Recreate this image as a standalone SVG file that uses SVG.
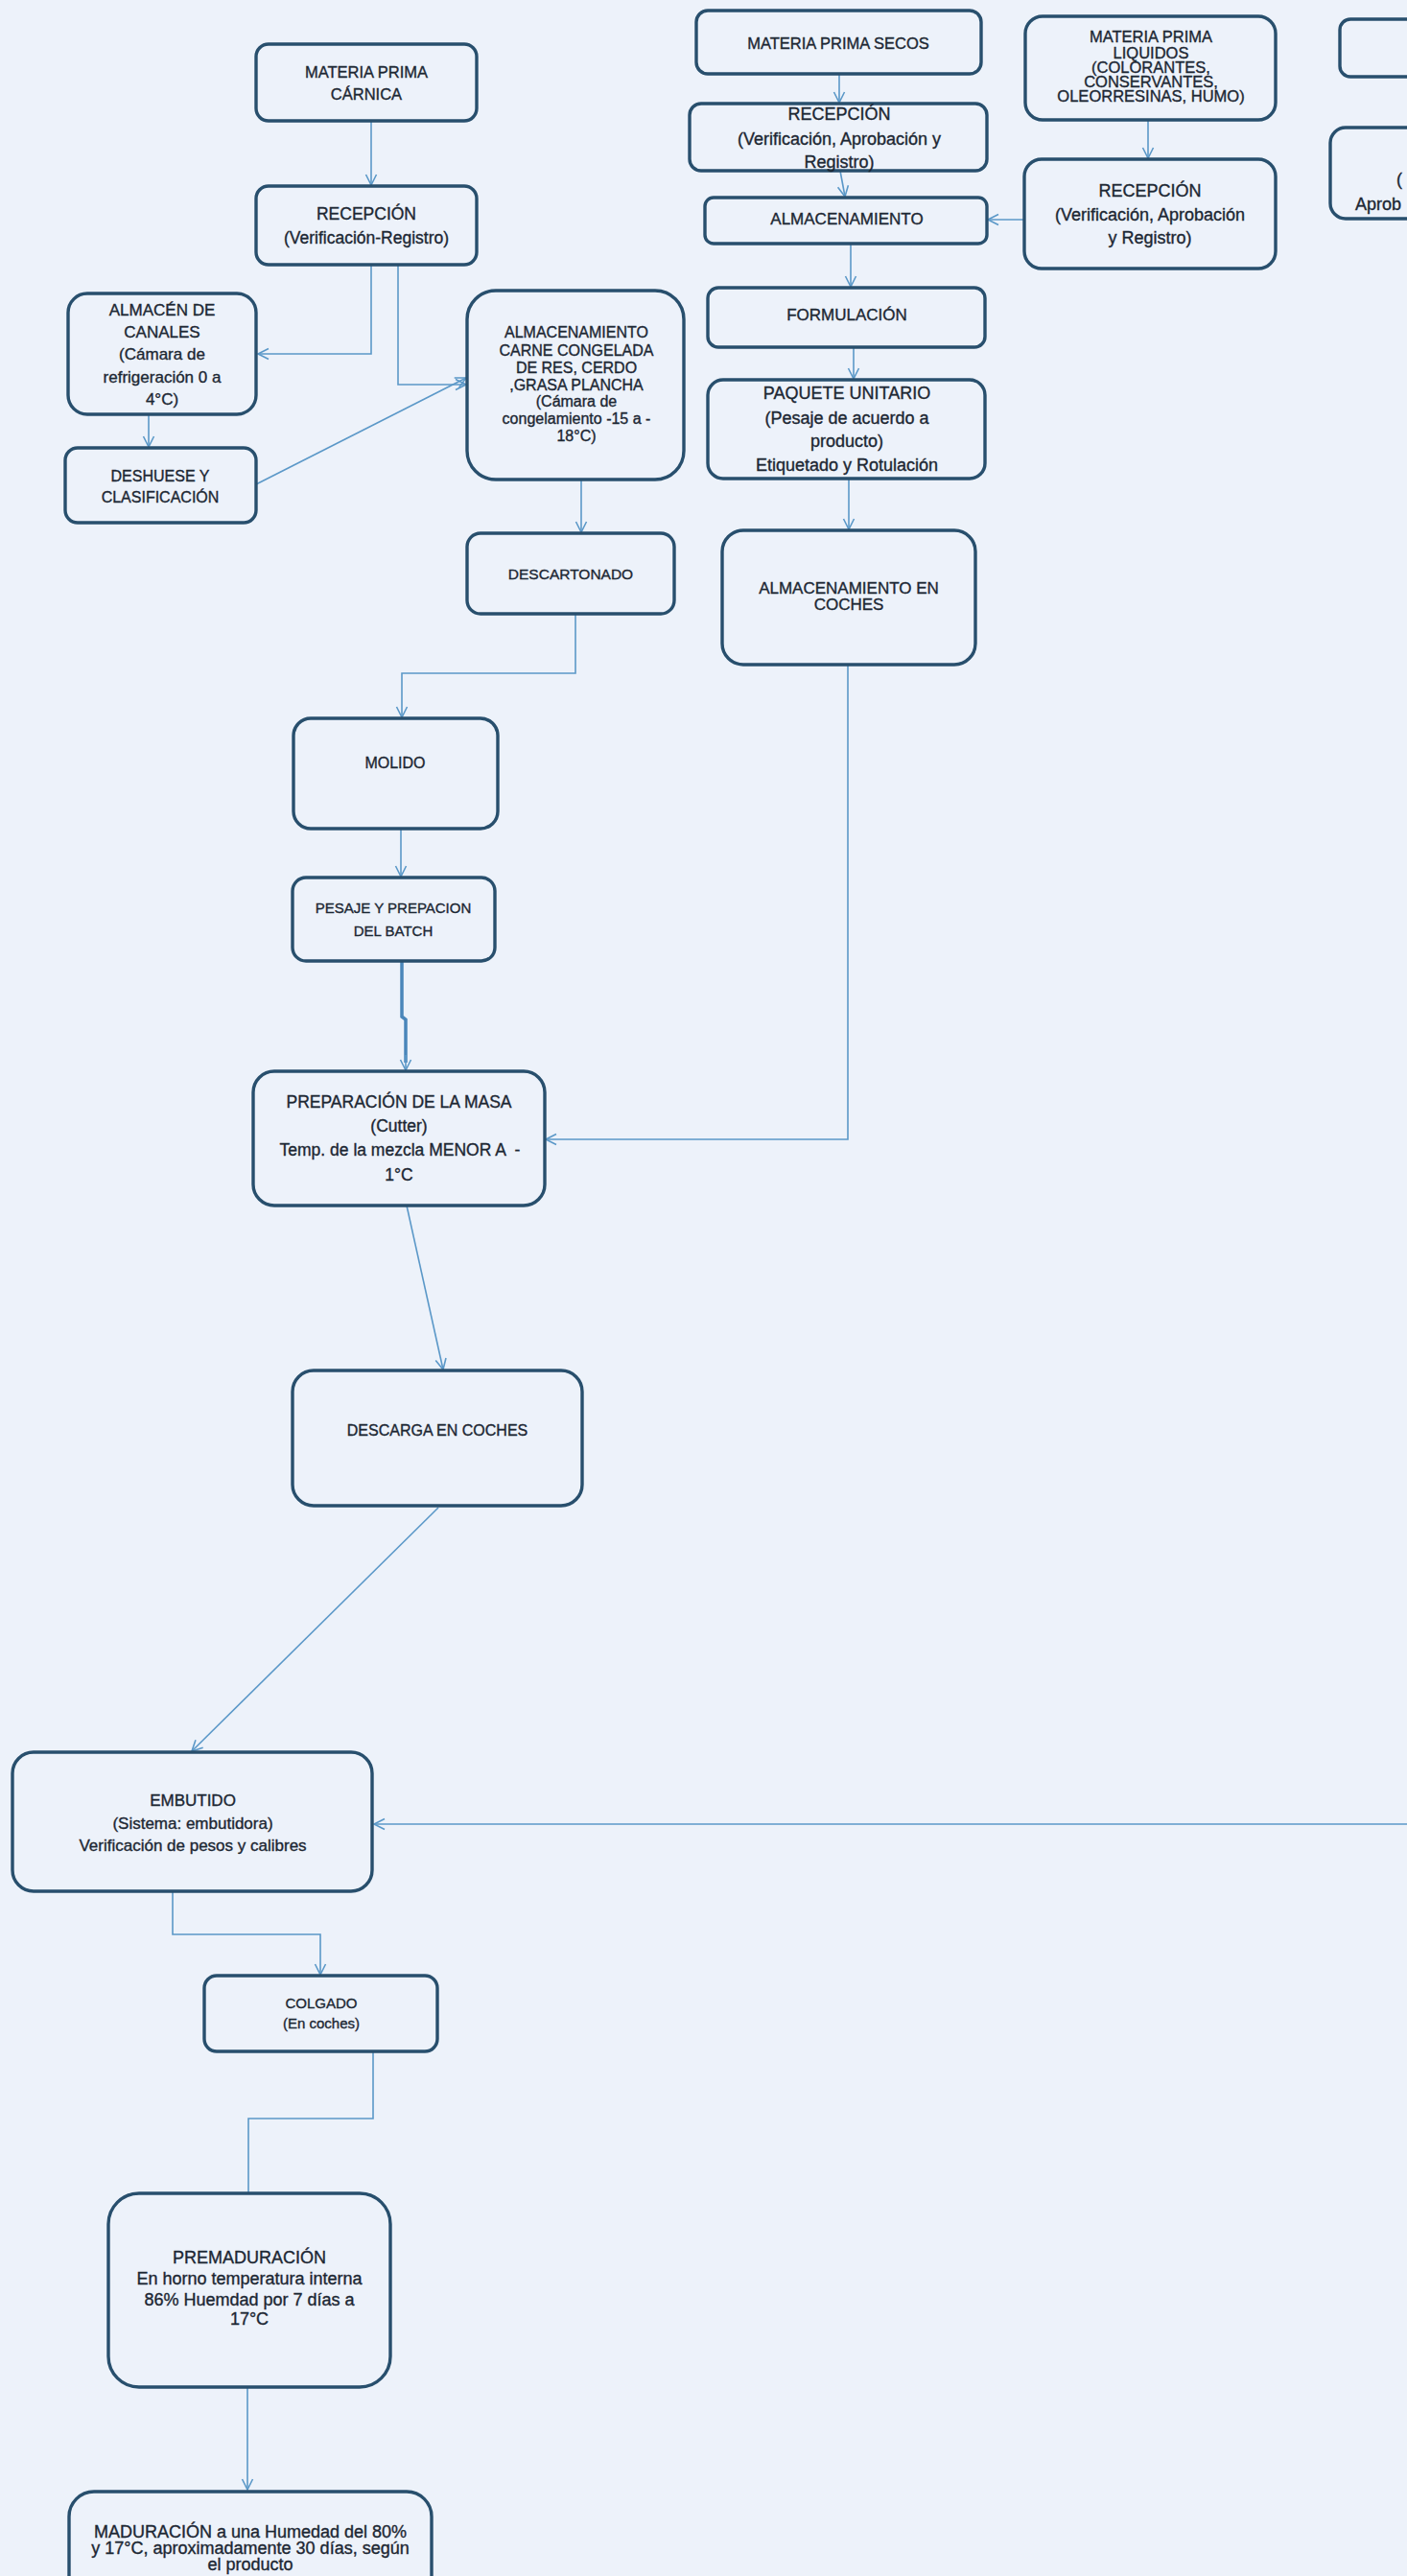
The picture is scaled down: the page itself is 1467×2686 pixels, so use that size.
<svg xmlns="http://www.w3.org/2000/svg" width="1467" height="2686" viewBox="0 0 1467 2686">
<defs>
<style>
.bx{fill:none;stroke:#284f6d;stroke-width:3.4}
.t{font-family:"Liberation Sans",Arial,sans-serif;fill:#1c2733;stroke:#1c2733;stroke-width:0.35;text-anchor:middle}
.c{fill:none;stroke:#5b98c8;stroke-width:1.6}
.ck{fill:none;stroke:#4a86ba;stroke-width:3.5}
</style>
<marker id="ah" markerWidth="14" markerHeight="14" refX="12" refY="7" orient="auto" markerUnits="userSpaceOnUse">
<polyline points="1,1.5 12,7 1,12.5" fill="none" stroke="#5b98c8" stroke-width="1.6"/>
</marker>
</defs>
<rect x="0" y="0" width="1467" height="2686" fill="#edf2fa"/>

<g id="connectors">
<path class="c" d="M387,126 V193" marker-end="url(#ah)"/>
<path class="c" d="M387,276 V369 H269" marker-end="url(#ah)"/>
<path class="c" d="M415,276 V401 H486" marker-end="url(#ah)"/>
<path class="c" d="M155,432 V466" marker-end="url(#ah)"/>
<path class="c" d="M267,505 L486,394" marker-end="url(#ah)"/>
<path class="c" d="M606,500 V555" marker-end="url(#ah)"/>
<path class="c" d="M600,640 V702 H419 V748" marker-end="url(#ah)"/>
<path class="c" d="M418,864 V914" marker-end="url(#ah)"/>
<path class="ck" d="M419,1002 V1060 L423,1063 V1108"/>
<path class="c" d="M423,1100 V1116" marker-end="url(#ah)"/>
<path class="c" d="M884,693 V1188 H569" marker-end="url(#ah)"/>
<path class="c" d="M424,1257 L462,1428" marker-end="url(#ah)"/>
<path class="c" d="M457,1572 L200,1826" marker-end="url(#ah)"/>
<path class="c" d="M1467,1902 H390" marker-end="url(#ah)"/>
<path class="c" d="M180,1972 V2017 H334 V2059" marker-end="url(#ah)"/>
<path class="c" d="M389,2139 V2209 H259 V2287"/>
<path class="c" d="M258,2489 V2596" marker-end="url(#ah)"/>
<path class="c" d="M875,77 V107" marker-end="url(#ah)"/>
<path class="c" d="M876,178 L881,205" marker-end="url(#ah)"/>
<path class="c" d="M887,254 V299" marker-end="url(#ah)"/>
<path class="c" d="M890,362 V395" marker-end="url(#ah)"/>
<path class="c" d="M885,499 V552" marker-end="url(#ah)"/>
<path class="c" d="M1197,125 V165" marker-end="url(#ah)"/>
<path class="c" d="M1068,229 H1030" marker-end="url(#ah)"/>
</g>

<g id="n1"><rect class="bx" x="267" y="46" width="230" height="80" rx="13"/>
<text class="t" font-size="16.5"><tspan x="382" y="81">MATERIA PRIMA</tspan><tspan x="382" y="104">CÁRNICA</tspan></text></g>

<g id="n2"><rect class="bx" x="267" y="194" width="230" height="82" rx="13"/>
<text class="t" font-size="17.5"><tspan x="382" y="229">RECEPCIÓN</tspan><tspan x="382" y="254">(Verificación-Registro)</tspan></text></g>

<g id="n3"><rect class="bx" x="71" y="306" width="196" height="126" rx="20"/>
<text class="t" font-size="17"><tspan x="169" y="329">ALMACÉN DE</tspan><tspan x="169" y="352">CANALES</tspan><tspan x="169" y="375">(Cámara de</tspan><tspan x="169" y="399">refrigeración 0 a</tspan><tspan x="169" y="422">4°C)</tspan></text></g>

<g id="n4"><rect class="bx" x="68" y="467" width="199" height="78" rx="13"/>
<text class="t" font-size="16"><tspan x="167" y="502">DESHUESE Y</tspan><tspan x="167" y="524">CLASIFICACIÓN</tspan></text></g>

<g id="n5"><rect class="bx" x="487" y="303" width="226" height="197" rx="30"/>
<text class="t" font-size="16"><tspan x="601" y="352">ALMACENAMIENTO</tspan><tspan x="601" y="371">CARNE CONGELADA</tspan><tspan x="601" y="389">DE RES, CERDO</tspan><tspan x="601" y="407">,GRASA PLANCHA</tspan><tspan x="601" y="424">(Cámara de</tspan><tspan x="601" y="442">congelamiento -15 a -</tspan><tspan x="601" y="460">18°C)</tspan></text></g>

<g id="n6"><rect class="bx" x="487" y="556" width="216" height="84" rx="14"/>
<text class="t" font-size="15.5"><tspan x="595" y="604">DESCARTONADO</tspan></text></g>

<g id="n7"><rect class="bx" x="306" y="749" width="213" height="115" rx="18"/>
<text class="t" font-size="16"><tspan x="412" y="801">MOLIDO</tspan></text></g>

<g id="n8"><rect class="bx" x="305" y="915" width="211" height="87" rx="14"/>
<text class="t" font-size="15"><tspan x="410" y="952">PESAJE Y PREPACION</tspan><tspan x="410" y="976">DEL BATCH</tspan></text></g>

<g id="n9"><rect class="bx" x="264" y="1117" width="304" height="140" rx="22"/>
<text class="t" font-size="17.5"><tspan x="416" y="1155">PREPARACIÓN DE LA MASA</tspan><tspan x="416" y="1180">(Cutter)</tspan><tspan x="417" y="1205">Temp. de la mezcla MENOR A &#160;-</tspan><tspan x="416" y="1231">1°C</tspan></text></g>

<g id="n10"><rect class="bx" x="305" y="1429" width="302" height="141" rx="22"/>
<text class="t" font-size="16"><tspan x="456" y="1497">DESCARGA EN COCHES</tspan></text></g>

<g id="n11"><rect class="bx" x="13" y="1827" width="375" height="145" rx="22"/>
<text class="t" font-size="17"><tspan x="201" y="1883">EMBUTIDO</tspan><tspan x="201" y="1907">(Sistema: embutidora)</tspan><tspan x="201" y="1930">Verificación de pesos y calibres</tspan></text></g>

<g id="n12"><rect class="bx" x="213" y="2060" width="243" height="79" rx="13"/>
<text class="t" font-size="15"><tspan x="335" y="2094">COLGADO</tspan><tspan x="335" y="2115">(En coches)</tspan></text></g>

<g id="n13"><rect class="bx" x="113" y="2287" width="294" height="202" rx="32"/>
<text class="t" font-size="18"><tspan x="260" y="2360">PREMADURACIÓN</tspan><tspan x="260" y="2382">En horno temperatura interna</tspan><tspan x="260" y="2404">86% Huemdad por 7 días a</tspan><tspan x="260" y="2424">17°C</tspan></text></g>

<g id="n14"><rect class="bx" x="72" y="2598" width="378" height="160" rx="26"/>
<text class="t" font-size="18"><tspan x="261" y="2646">MADURACIÓN a una Humedad del 80%</tspan><tspan x="261" y="2663">y 17°C, aproximadamente 30 días, según</tspan><tspan x="261" y="2680">el producto</tspan></text></g>

<g id="n15"><rect class="bx" x="726" y="11" width="297" height="66" rx="12"/>
<text class="t" font-size="16.5"><tspan x="874" y="51">MATERIA PRIMA SECOS</tspan></text></g>

<g id="n16"><rect class="bx" x="719" y="108" width="310" height="70" rx="12"/>
<text class="t" font-size="18"><tspan x="875" y="125">RECEPCIÓN</tspan><tspan x="875" y="151">(Verificación, Aprobación y</tspan><tspan x="875" y="175">Registro)</tspan></text></g>

<g id="n17"><rect class="bx" x="735" y="206" width="294" height="48" rx="9"/>
<text class="t" font-size="17"><tspan x="883" y="234">ALMACENAMIENTO</tspan></text></g>

<g id="n18"><rect class="bx" x="738" y="300" width="289" height="62" rx="11"/>
<text class="t" font-size="17"><tspan x="883" y="334">FORMULACIÓN</tspan></text></g>

<g id="n19"><rect class="bx" x="738" y="396" width="289" height="103" rx="16"/>
<text class="t" font-size="18"><tspan x="883" y="416">PAQUETE UNITARIO</tspan><tspan x="883" y="442">(Pesaje de acuerdo a</tspan><tspan x="883" y="466">producto)</tspan><tspan x="883" y="491">Etiquetado y Rotulación</tspan></text></g>

<g id="n20"><rect class="bx" x="753" y="553" width="264" height="140" rx="22"/>
<text class="t" font-size="17"><tspan x="885" y="619">ALMACENAMIENTO EN</tspan><tspan x="885" y="636">COCHES</tspan></text></g>

<g id="n21"><rect class="bx" x="1069" y="17" width="261" height="108" rx="18"/>
<text class="t" font-size="16.5"><tspan x="1200" y="44">MATERIA PRIMA</tspan><tspan x="1200" y="61">LIQUIDOS</tspan><tspan x="1200" y="76">(COLORANTES,</tspan><tspan x="1200" y="91">CONSERVANTES,</tspan><tspan x="1200" y="106">OLEORRESINAS, HUMO)</tspan></text></g>

<g id="n22"><rect class="bx" x="1068" y="166" width="262" height="114" rx="18"/>
<text class="t" font-size="18"><tspan x="1199" y="205">RECEPCIÓN</tspan><tspan x="1199" y="230">(Verificación, Aprobación</tspan><tspan x="1199" y="254">y Registro)</tspan></text></g>

<g id="n23"><rect class="bx" x="1397" y="20" width="110" height="60" rx="11"/></g>

<g id="n24"><rect class="bx" x="1387" y="133" width="120" height="95" rx="16"/>
<text class="t" font-size="18" style="text-anchor:start"><tspan x="1456" y="193">(</tspan><tspan x="1413" y="219">Aprob</tspan></text></g>
</svg>
